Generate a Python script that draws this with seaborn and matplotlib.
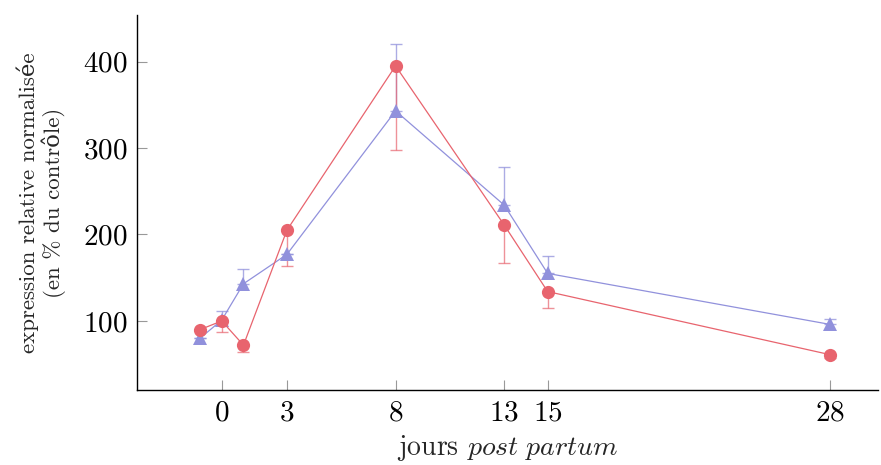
import pandas as pd
import matplotlib
matplotlib.use("Agg")
import matplotlib.pyplot as plt
import seaborn as sns

sns.set_theme(style="white")
plt.rcParams['font.family'] = ['cmr10', 'DejaVu Serif']
plt.rcParams['mathtext.fontset'] = 'cm'
plt.rcParams['axes.formatter.use_mathtext'] = True

# jours post partum
jours = [-1, 0, 1, 3, 8, 13, 15, 28]

# série rouge (cercles), barres d'erreur vers le bas
rouge = [90, 100, 72, 205, 395, 211, 134, 61]
rouge_err = [0, 13, 8, 42, 97, 44, 19, 4]

# série bleue (triangles), barres d'erreur vers le haut
bleu = [80, 101, 143, 177, 343, 234, 155, 96]
bleu_err = [0, 11, 17, 0, 77, 44, 20, 6]

xticks = [0, 3, 8, 13, 15, 28]
yticks = [100, 200, 300, 400]

df = pd.DataFrame({
    'jour': jours * 2,
    'valeur': bleu + rouge,
    'serie': ['bleu'] * len(jours) + ['rouge'] * len(jours),
})

c_rouge = '#e8646e'
c_bleu = '#9191dc'

fig = plt.figure(figsize=(8.81, 4.65), dpi=100)
ax = fig.add_axes([0.1555, 0.161, 0.841, 0.807])

sns.lineplot(data=df, x='jour', y='valeur', hue='serie', style='serie',
             markers={'bleu': '^', 'rouge': 'o'}, dashes=False,
             palette={'bleu': c_bleu, 'rouge': c_rouge},
             hue_order=['bleu', 'rouge'], markersize=9.5, linewidth=0.9,
             markeredgewidth=0, legend=False, ax=ax, zorder=3)

# barres d'erreur unilatérales
ax.errorbar(jours, bleu, yerr=[[0] * len(jours), bleu_err], fmt='none',
            ecolor=c_bleu, elinewidth=1, capsize=4.5, capthick=1, alpha=0.75, zorder=2)
ax.errorbar(jours, rouge, yerr=[rouge_err, [0] * len(jours)], fmt='none',
            ecolor=c_rouge, elinewidth=1, capsize=4.5, capthick=1, alpha=0.7, zorder=2)

ax.set_xlim(-3.9, 30.2)
ax.set_ylim(20, 454)
ax.set_xticks(xticks)
ax.set_yticks(yticks)
ax.tick_params(direction='in', length=7, width=0.8, color='#999999',
               labelsize=21, pad=7, labelcolor='black', bottom=True, left=True)

for s in ['top', 'right']:
    ax.spines[s].set_visible(False)
for s in ['left', 'bottom']:
    ax.spines[s].set_color('black')
    ax.spines[s].set_linewidth(1)

ax.set_xlabel(r"jours $\mathit{post\ partum}$", fontsize=20, labelpad=5)
ax.set_ylabel("expression relative normalisée\n(en % du contrôle)", fontsize=16.5,
              labelpad=12, linespacing=1.15)

fig.savefig("out.png", dpi=100)
